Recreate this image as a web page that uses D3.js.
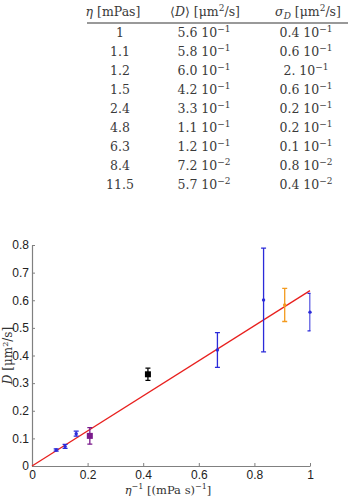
<!DOCTYPE html>
<html><head><meta charset="utf-8">
<script src="https://cdn.jsdelivr.net/npm/d3@7"></script>
<style>body{margin:0;background:#fff}svg{display:block}</style>
</head><body><svg id="c" width="349" height="496"></svg>
<script>
// ---- table data ----
const tabEta = ["1","1.1","1.2","1.5","2.4","4.8","6.3","8.4","11.5"];
const tabDMant = ["5.6","5.8","6.0","4.2","3.3","1.1","1.2","7.2","5.7"];
const tabDExp = ["−1","−1","−1","−1","−1","−1","−1","−2","−2"];
const tabSMant = ["0.4","0.6","2.","0.6","0.2","0.2","0.1","0.8","0.4"];
const tabSExp = ["−1","−1","−1","−1","−1","−1","−1","−2","−2"];
// ---- plot data ----
const invEta = [1, 0.909, 0.833, 0.667, 0.417, 0.208, 0.159, 0.119, 0.087];
const meanD  = [0.557, 0.583, 0.601, 0.42, 0.332, 0.109, 0.117, 0.071, 0.058];
const errD   = [0.068, 0.06, 0.188, 0.063, 0.022, 0.03, 0.009, 0.007, 0.004];
const ptColor = ["#2b2bd9","#f39a1e","#2b2bd9","#2b2bd9","#000000","#7a1a8c","#2b2bd9","#2b2bd9","#2b2bd9"];
const ptShape = ["dot","dot","dot","dot","square","square","dot","dot","dot"];
const fitSlope = 0.635;
const xTicks = [0, 0.2, 0.4, 0.6, 0.8, 1];
const yTicks = [0, 0.1, 0.2, 0.3, 0.4, 0.5, 0.6, 0.7, 0.8];

const svg = d3.select("#c");
const serif = "'DejaVu Serif', serif";
const sans = "'Liberation Sans', Arial, sans-serif";

// ---- table ----
const colX = [120, 204, 306];
const rowY0 = 37, rowDY = 19;
const tbl = svg.append("g").style("font-family", serif).style("font-size", "12.5px").attr("fill", "#3a3a3a");
function hdr(x, parts) {
  const t = tbl.append("text").attr("x", x).attr("y", 16).attr("text-anchor", "middle");
  parts.forEach(p => {
    const s = t.append("tspan").text(p.t);
    if (p.i) s.attr("font-style", "italic");
    if (p.sup) s.style("font-size", "9px").attr("dy", -5);
    if (p.sub) s.style("font-size", "9px").attr("dy", 3);
    if (p.back) s.attr("dy", p.back);
  });
}
hdr(113, [{t:"η", i:true},{t:" [mPas]"}]);
hdr(205, [{t:"⟨"},{t:"D", i:true},{t:"⟩ [μm"},{t:"2", sup:true},{t:"/s]", back:5}]);
hdr(308, [{t:"σ", i:true},{t:"D", i:true, sub:true},{t:" [μm", back:-3},{t:"2", sup:true},{t:"/s]", back:5}]);
tbl.append("line").attr("x1", 87).attr("x2", 348).attr("y1", 23).attr("y2", 23)
  .attr("stroke", "#777").attr("stroke-width", 1.5);
function cell(x, y, m, e) {
  const t = tbl.append("text").attr("x", x).attr("y", y).attr("text-anchor", "middle");
  if (e) {
    t.append("tspan").text(m + " 10");
    t.append("tspan").style("font-size", "9px").attr("dy", -5).text(e);
  } else {
    t.append("tspan").text(m);
  }
}
tabEta.forEach((v, i) => {
  const y = rowY0 + i * rowDY;
  cell(colX[0], y, v, null);
  cell(colX[1], y, tabDMant[i], tabDExp[i]);
  cell(colX[2], y, tabSMant[i], tabSExp[i]);
});

// ---- plot ----
const x = d3.scaleLinear().domain([0, 1]).range([32, 310]);
const y = d3.scaleLinear().domain([0, 0.8]).range([466, 245]);
const axColor = "#808080";

svg.append("defs").append("clipPath").attr("id", "clip")
  .append("rect").attr("x", x(0) - 5).attr("y", 0).attr("width", x(1) - x(0) + 5.5).attr("height", 496);

const xAx = svg.append("g").attr("transform", `translate(0,${y(0)})`)
  .call(d3.axisBottom(x).tickValues(xTicks).tickFormat(d3.format("")).tickSizeInner(-3).tickSizeOuter(0).tickPadding(4));
const yAx = svg.append("g").attr("transform", `translate(${x(0)},0)`)
  .call(d3.axisLeft(y).tickValues(yTicks).tickFormat(d3.format("")).tickSizeInner(-3).tickSizeOuter(0).tickPadding(3));
[xAx, yAx].forEach(a => {
  a.attr("font-family", null).attr("font-size", null);
  a.select(".domain").attr("stroke", axColor).attr("stroke-width", 1.2);
  a.selectAll(".tick line").attr("stroke", axColor);
  a.selectAll(".tick text").style("font-family", sans).style("font-size", "12px").attr("fill", "#222");
});

// fit line
svg.append("line").attr("x1", x(0)).attr("y1", y(0)).attr("x2", x(1)).attr("y2", y(fitSlope))
  .attr("stroke", "#e8201e").attr("stroke-width", 1.3);

// error bars
const eb = svg.append("g").attr("clip-path", "url(#clip)");
const cap = 2.5;
invEta.forEach((v, i) => {
  const g = eb.append("g").attr("stroke", ptColor[i]).attr("stroke-width", 1.3);
  const xp = x(v), y1 = y(meanD[i] + errD[i]), y2 = y(meanD[i] - errD[i]);
  g.append("line").attr("x1", xp).attr("x2", xp).attr("y1", y1).attr("y2", y2);
  g.append("line").attr("x1", xp - cap).attr("x2", xp + cap).attr("y1", y1).attr("y2", y1);
  g.append("line").attr("x1", xp - cap).attr("x2", xp + cap).attr("y1", y2).attr("y2", y2);
  if (ptShape[i] === "square") {
    svg.append("rect").attr("x", xp - 3).attr("y", y(meanD[i]) - 3).attr("width", 6).attr("height", 6)
      .attr("fill", ptColor[i]);
  } else {
    svg.append("circle").attr("cx", xp).attr("cy", y(meanD[i])).attr("r", 1.7).attr("fill", ptColor[i]);
  }
});

// axis labels
const yl = svg.append("text").attr("transform", `translate(12,${(y(0)+y(0.8))/2}) rotate(-90)`)
  .attr("text-anchor", "middle").style("font-family", serif).style("font-size", "12px").attr("fill", "#333");
yl.append("tspan").attr("font-style", "italic").text("D");
yl.append("tspan").text(" [μm");
yl.append("tspan").style("font-size", "8px").attr("dy", -4).text("2");
yl.append("tspan").attr("dy", 4).text("/s]");

const xl = svg.append("text").attr("x", (x(0)+x(1))/2 - 3).attr("y", 494)
  .attr("text-anchor", "middle").style("font-family", serif).style("font-size", "11.5px").attr("fill", "#333");
xl.append("tspan").attr("font-style", "italic").text("η");
xl.append("tspan").style("font-size", "8px").attr("dy", -5).text("−1");
xl.append("tspan").attr("dy", 5).text(" [(mPa s)");
xl.append("tspan").style("font-size", "8px").attr("dy", -5).text("−1");
xl.append("tspan").attr("dy", 5).text("]");
</script></body></html>
